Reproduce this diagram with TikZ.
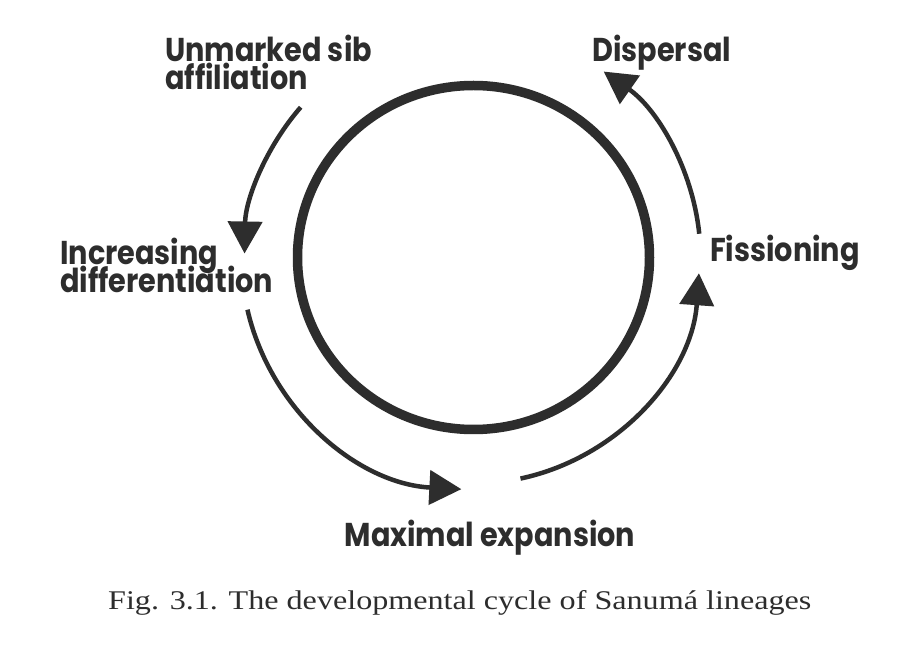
\documentclass[tikz,border=0pt]{standalone}
\usepackage{fontspec}
\setmainfont{Liberation Serif}
\newfontfamily\labfont{Poppins}[FakeStretch=0.87]
\newfontfamily\capfont{Liberation Serif}[FakeStretch=1.19]
\usetikzlibrary{arrows.meta,calc}
\definecolor{ink}{RGB}{45,45,45}
\begin{document}
\begin{tikzpicture}[x=1pt,y=1pt,
  lab/.style={font={\labfont\bfseries\fontsize{33}{28}\selectfont\lineskiplimit=-40pt}, text=ink, inner sep=0pt, anchor=base west, align=left},
  captext/.style={font=\capfont\fontsize{27}{27}\selectfont, text=ink, inner sep=0pt, anchor=base west},
  cyc/.style={draw=ink, line width=4.5pt, -{Triangle[length=32pt,width=34pt]}},
  ring/.style={draw=ink, line width=9.5pt}
]
\path[use as bounding box, fill=white] (0,0) rectangle (903,651);
\coordinate (c) at (473.5,393.5);
\draw[ring] (c) ellipse [x radius=176, y radius=172];
\draw[cyc] ($(c)+(139:229)$) arc[start angle=139, end angle=179, radius=229];
\draw[cyc] ($(c)+(193:232)$) arc[start angle=193, end angle=267, radius=232];
\draw[cyc] ($(c)+(282:226)$) arc[start angle=282, end angle=356, radius=226];
\draw[cyc] ($(c)+(6:227)$) arc[start angle=6, end angle=55, radius=227];
\node[lab] (u) at (165,561) {Unmarked sib\\affiliation};
\node[lab] (d) at (592,589) {Dispersal};
\node[lab] (f) at (710,389) {Fissioning};
\node[lab] (i) at (60,358) {Increasing\\differentiation};
\node[lab, anchor=base] (m) at (490,104) {Maximal expansion};
\node[captext] (fig) at (108,41) {Fig. 3.1. The developmental cycle of Sanumá lineages};
\end{tikzpicture}
\end{document}
